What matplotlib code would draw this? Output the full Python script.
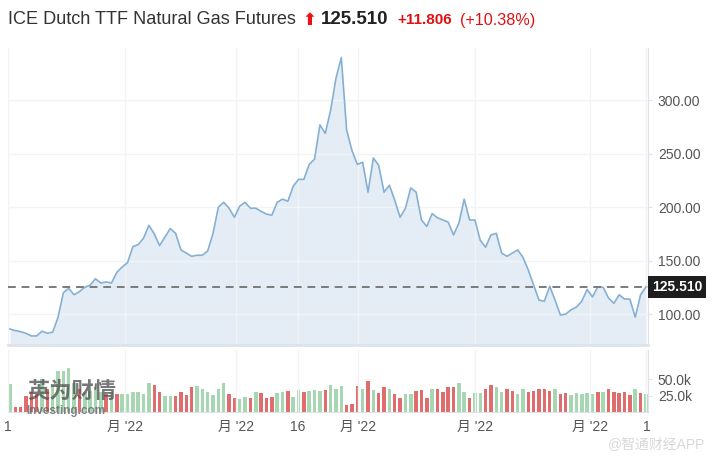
import matplotlib.pyplot as plt
import numpy as np

plt.rcParams['font.family'] = ['Liberation Sans', 'Noto Sans CJK SC', 'DejaVu Sans']

# daily settlement prices
prices = [86, 84.5, 83.5, 82, 79.5, 79.5, 84, 82, 83, 97,
          120, 124, 118, 121, 125, 127, 133, 129, 130, 129,
          139, 144, 148, 163, 165, 171, 183, 175, 164, 172,
          180, 175.5, 160, 157, 154, 155, 155, 159, 175.5, 200,
          204.5, 199, 190.5, 201, 204.5, 199, 199, 196, 193.5, 192.5,
          204.5, 207.5, 205.5, 219.5, 226, 226, 240, 245, 277, 269,
          290.5, 320.5, 340, 272, 253, 240, 242, 214, 246, 239,
          214, 220.5, 206.5, 190.5, 199, 218, 214, 188, 182, 194,
          190, 188, 186, 174, 185, 207.5, 188, 188, 169, 162.5,
          174, 175.5, 157, 154, 157, 160, 153, 141, 127, 113,
          112, 126, 113, 99, 100, 104, 106.5, 112, 123, 116,
          125.5, 125, 115, 110, 118, 114, 114, 97, 118, 125.51]

# volume in thousands
volumes = [43, 7, 7, 24, 30, 28, 50, 35, 40, 63,
           63, 67, 44, 35, 30, 32, 38, 30, 28, 30,
           28, 28, 28, 30, 31, 28, 44, 42, 30, 25,
           24, 24, 30, 26, 38, 40, 35, 30, 26, 35,
           44, 28, 22, 20, 23, 21, 30, 29, 21, 23,
           29, 30, 33, 23, 34, 31, 33, 34, 33, 34,
           42, 36, 40, 11, 13, 40, 35, 47, 34, 29,
           38, 36, 27, 21, 27, 27, 33, 34, 21, 36,
           36, 31, 38, 38, 45, 31, 21, 29, 29, 35,
           41, 39, 31, 35, 33, 28, 35, 31, 33, 36,
           35, 33, 36, 28, 29, 26, 29, 28, 29, 28,
           31, 31, 36, 30, 29, 30, 26, 35, 29, 28]

vol_dir = list('grrrrrgrgggggrggggrgrggggggrrggrrrrgggggg'
               'rrggrgrrrggrggrgggrgggrrrgrgrrgrrggrrrgrr'
               'rrggrggrrggrrggrrrrrgrrgggggrgrrrrrgrgg')

last_price = '125.510'
change = '+11.806'
change_pct = '(+10.38%)'

x_ticks = [-0.37, 21.5, 42.3, 53.9, 65.2, 87.1, 108.6, 119.1]
x_labels = ['1', "月 '22", "月 '22", '16', "月 '22", "月 '22", "月 '22", '1']

x = np.arange(len(prices))

fig = plt.figure(figsize=(7.12, 4.65), dpi=100)
ax = fig.add_axes([0.0112, 0.258, 0.899, 0.639])
axv = fig.add_axes([0.0112, 0.114, 0.899, 0.133])

grid_c = '#f1f3f5'
edge_c = '#dde3e9'
txt_c = '#555555'

ax.fill_between(x, prices, 71, color='#e4edf5', lw=0)
ax.plot(x, prices, color='#86b0d3', lw=1.2)
ax.axhline(125.51, color='#7a7a7a', lw=1.4, ls=(0, (4, 3)))
ax.set_xlim(-0.37, 119.4)
ax.set_ylim(71, 349)
ax.set_yticks([100, 150, 200, 250, 300])
ax.set_yticklabels(['100.00', '150.00', '200.00', '250.00', '300.00'])
ax.set_xticks(x_ticks)
ax.tick_params(axis='x', length=0, labelbottom=False)
ax.yaxis.tick_right()
ax.tick_params(axis='y', length=3, color=edge_c, labelsize=10, labelcolor=txt_c, pad=4)
ax.grid(True, color=grid_c, lw=1)
for s in ['top', 'left']:
    ax.spines[s].set_visible(False)
ax.spines['bottom'].set_color(edge_c)
ax.spines['bottom'].set_linewidth(2)
ax.spines['right'].set_color(edge_c)

ax.text(1.006, 125.51, last_price, transform=ax.get_yaxis_transform(),
        ha='left', va='center', color='white', fontsize=10, fontweight='bold',
        bbox=dict(boxstyle='square,pad=0.3', fc='#1e1e1e', ec='none'))

colors = ['#a7d7b2' if d == 'g' else '#e06d6d' for d in vol_dir]
axv.bar(x, np.array(volumes) * 1000, width=0.65, color=colors)
axv.set_xlim(-0.37, 119.4)
axv.set_ylim(0, 95000)
axv.set_yticks([25000, 50000])
axv.set_yticklabels(['25.0k', '50.0k'])
axv.yaxis.tick_right()
axv.tick_params(axis='y', length=3, color=edge_c, labelsize=10, labelcolor=txt_c, pad=4)
axv.set_xticks(x_ticks)
axv.set_xticklabels(x_labels)
axv.tick_params(axis='x', length=0, labelsize=10, labelcolor=txt_c, pad=6)
axv.grid(True, axis='x', color=grid_c, lw=1)
for s in ['top', 'left']:
    axv.spines[s].set_visible(False)
axv.spines['bottom'].set_color(edge_c)
axv.spines['right'].set_color(edge_c)

# title row, pieces placed one after another
fig.canvas.draw()
r = fig.canvas.get_renderer()
pieces = [('ICE Dutch TTF Natural Gas Futures', '#333333', 'normal', 13.1, 7),
          ('⬆', '#e8141a', 'bold', 12, 4),
          (last_price, '#222222', 'bold', 13.5, 9),
          (change, '#e01010', 'bold', 11, 8),
          (change_pct, '#e01010', 'normal', 11.6, 0)]
px = 8
for s, c, w, fs, gap in pieces:
    fam = ['DejaVu Sans'] if s == '⬆' else None
    t = fig.text(px / 712, 1 - 20 / 465, s, color=c, fontweight=w, fontsize=fs,
                 ha='left', va='center', family=fam)
    px = t.get_window_extent(r).x1 + gap

# watermarks
fig.text(27 / 712, 1 - 392 / 465, '英为财情', fontsize=16, color='#555555', alpha=0.8,
         fontweight='bold', ha='left', va='center')
fig.text(26 / 712, 1 - 411 / 465, 'Investing.com', fontsize=8.5, color='#666666', alpha=0.8,
         fontweight='bold', ha='left', va='center')
fig.text(705 / 712, 1 - 445 / 465, '@智通财经APP', fontsize=10, color='#d8d8d8',
         ha='right', va='center')

fig.savefig('out.png', dpi=100)
